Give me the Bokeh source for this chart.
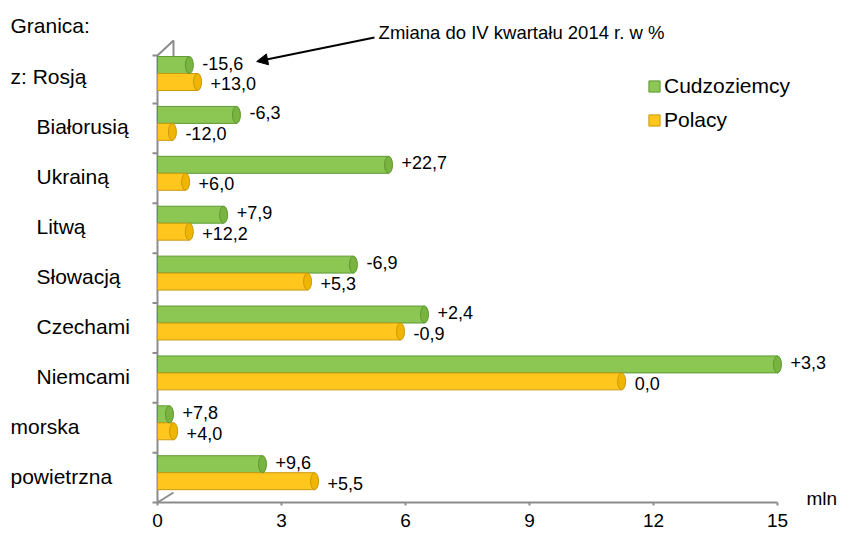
from bokeh.plotting import figure
from bokeh.models import ColumnDataSource, Range1d, Legend, LegendItem, Arrow, NormalHead, FixedTicker
from bokeh.core.properties import value
from bokeh.embed import file_html
from bokeh.resources import INLINE

# ---- data ----
categories = ["z: Rosją", "Białorusią", "Ukrainą", "Litwą", "Słowacją", "Czechami", "Niemcami", "morska", "powietrzna"]
indent = [0, 1, 1, 1, 1, 1, 1, 0, 0]          # sub-items of land border are indented
foreigners = [0.77, 1.91, 5.59, 1.60, 4.74, 6.46, 15.00, 0.29, 2.54]   # Cudzoziemcy, mln
poles = [0.97, 0.36, 0.68, 0.77, 3.63, 5.88, 11.23, 0.39, 3.80]        # Polacy, mln
change_foreigners = ["-15,6", "-6,3", "+22,7", "+7,9", "-6,9", "+2,4", "+3,3", "+7,8", "+9,6"]
change_poles = ["+13,0", "-12,0", "+6,0", "+12,2", "+5,3", "-0,9", "0,0", "+4,0", "+5,5"]
x_ticks = [0, 3, 6, 9, 12, 15]

FONT = "Liberation Sans"
GREEN, GREEN_D = "#8cc653", "#5e9a34"
YELLOW, YELLOW_D = "#ffc61e", "#c99a10"
GRAY = "#8c8c8c"

W, H = 842, 537
n = len(categories)
idx = list(range(n))
bar_h = 0.34
yg = [i - bar_h / 2 for i in idx]
yy = [i + bar_h / 2 for i in idx]

src_g = ColumnDataSource(dict(y=yg, v=foreigners, lab=change_foreigners))
src_y = ColumnDataSource(dict(y=yy, v=poles, lab=change_poles))

px_per_unit = 41.33
x0_screen = 157.0  # pixels from frame left to value 0
x_start = -x0_screen / px_per_unit
x_end = (W - x0_screen) / px_per_unit

row_px = 49.9
first_row = 73.0   # pixels from frame top to first row centre
axis_panel = 32
frame_h = H - axis_panel
y_top = -first_row / row_px
y_bot = (frame_h - first_row) / row_px
axis_y = (502 - first_row) / row_px          # drawn axis line position (rows)
px_y = 1.0 / row_px
px_x = 1.0 / px_per_unit

p = figure(width=W, height=H, x_range=Range1d(x_start, x_end), y_range=Range1d(y_bot, y_top),
           output_backend="svg", toolbar_location=None, y_axis_location=None,
           min_border_left=0, min_border_right=0, min_border_top=0, min_border_bottom=axis_panel)
p.outline_line_color = None
p.xgrid.visible = False
p.ygrid.visible = False
p.background_fill_color = "white"

# 3D wall outline with ticks
wall_top = -0.36
p.line(x=[16 * px_x, 16 * px_x, 0, 0, 16 * px_x],
       y=[-0.3, wall_top - 15 * px_y, wall_top, axis_y, axis_y - 10 * px_y],
       line_color=GRAY, line_width=2)
tick_y = [wall_top] + [i + 0.6 for i in range(0, n - 1)] + [axis_y]
p.segment(x0=[0] * len(tick_y), y0=tick_y, x1=[-5 * px_x] * len(tick_y), y1=tick_y,
          line_color=GRAY, line_width=2)

# drawn x-axis line and tick marks (tick labels come from the real axis)
p.segment(x0=[0], y0=[axis_y], x1=[max(x_ticks)], y1=[axis_y], line_color=GRAY, line_width=2)
p.segment(x0=x_ticks, y0=[axis_y] * len(x_ticks), x1=x_ticks, y1=[axis_y + 5 * px_y] * len(x_ticks),
          line_color=GRAY, line_width=2)

rg = p.hbar(y="y", left=0, right="v", height=bar_h, source=src_g, fill_color=GREEN, line_color=GREEN_D, line_width=1)
ry = p.hbar(y="y", left=0, right="v", height=bar_h, source=src_y, fill_color=YELLOW, line_color=YELLOW_D, line_width=1)
p.ellipse(x="v", y="y", width=8, width_units="screen", height=bar_h, source=src_g,
          fill_color="#79b340", line_color=GREEN_D)
p.ellipse(x="v", y="y", width=8, width_units="screen", height=bar_h, source=src_y,
          fill_color="#f0b500", line_color=YELLOW_D)

p.text(x="v", y="y", text="lab", source=src_g, x_offset=13, y_offset=-2, text_baseline="middle",
       text_font=value(FONT), text_font_size="18px", text_color="black")
p.text(x="v", y="y", text="lab", source=src_y, x_offset=13, y_offset=2, text_baseline="middle",
       text_font=value(FONT), text_font_size="18px", text_color="black")

# category labels
cat_src = ColumnDataSource(dict(x=[0] * n, y=[i + 0.07 for i in idx], t=categories,
                                xo=[-147 + 26 * k for k in indent]))
p.text(x="x", y="y", text="t", x_offset="xo", source=cat_src, text_baseline="middle",
       text_font=value(FONT), text_font_size="21px", text_color="black")
p.text(x=[0], y=[-0.96], text=["Granica:"], x_offset=-147, text_baseline="middle",
       text_font=value(FONT), text_font_size="21px", text_color="black")

# annotation
p.text(x=[5.35], y=[-0.82], text=["Zmiana do IV kwartału 2014 r. w %"], text_baseline="middle",
       text_font=value(FONT), text_font_size="18.5px", text_color="black")
p.add_layout(Arrow(end=NormalHead(size=11, fill_color="black", line_color="black"),
                   x_start=5.25, y_start=-0.72, x_end=2.40, y_end=-0.24,
                   line_color="black", line_width=2))

# unit label
p.text(x=[max(x_ticks)], y=[axis_y - 4 * px_y], text=["mln"], x_offset=29, text_baseline="middle",
       text_font=value(FONT), text_font_size="19px", text_color="black")

# real x axis providing the tick labels
ax = p.xaxis[0]
ax.ticker = FixedTicker(ticks=x_ticks)
ax.axis_line_color = None
ax.major_tick_line_color = None
ax.major_tick_out = 0
ax.major_tick_in = 0
ax.minor_tick_line_color = None
ax.major_label_standoff = 8
ax.major_label_text_font = FONT
ax.major_label_text_font_size = "19px"
ax.major_label_text_color = "black"

legend = Legend(items=[LegendItem(label="Cudzoziemcy", renderers=[rg]),
                       LegendItem(label="Polacy", renderers=[ry])],
                location=(647, frame_h - 132), orientation="vertical",
                glyph_width=14, glyph_height=14, label_standoff=3, label_height=23, spacing=10,
                padding=0, margin=0, border_line_color=None, background_fill_alpha=0,
                label_text_font=FONT, label_text_font_size="21px", label_text_color="black")
p.add_layout(legend)

open("out.html", "w").write(file_html(p, INLINE))
